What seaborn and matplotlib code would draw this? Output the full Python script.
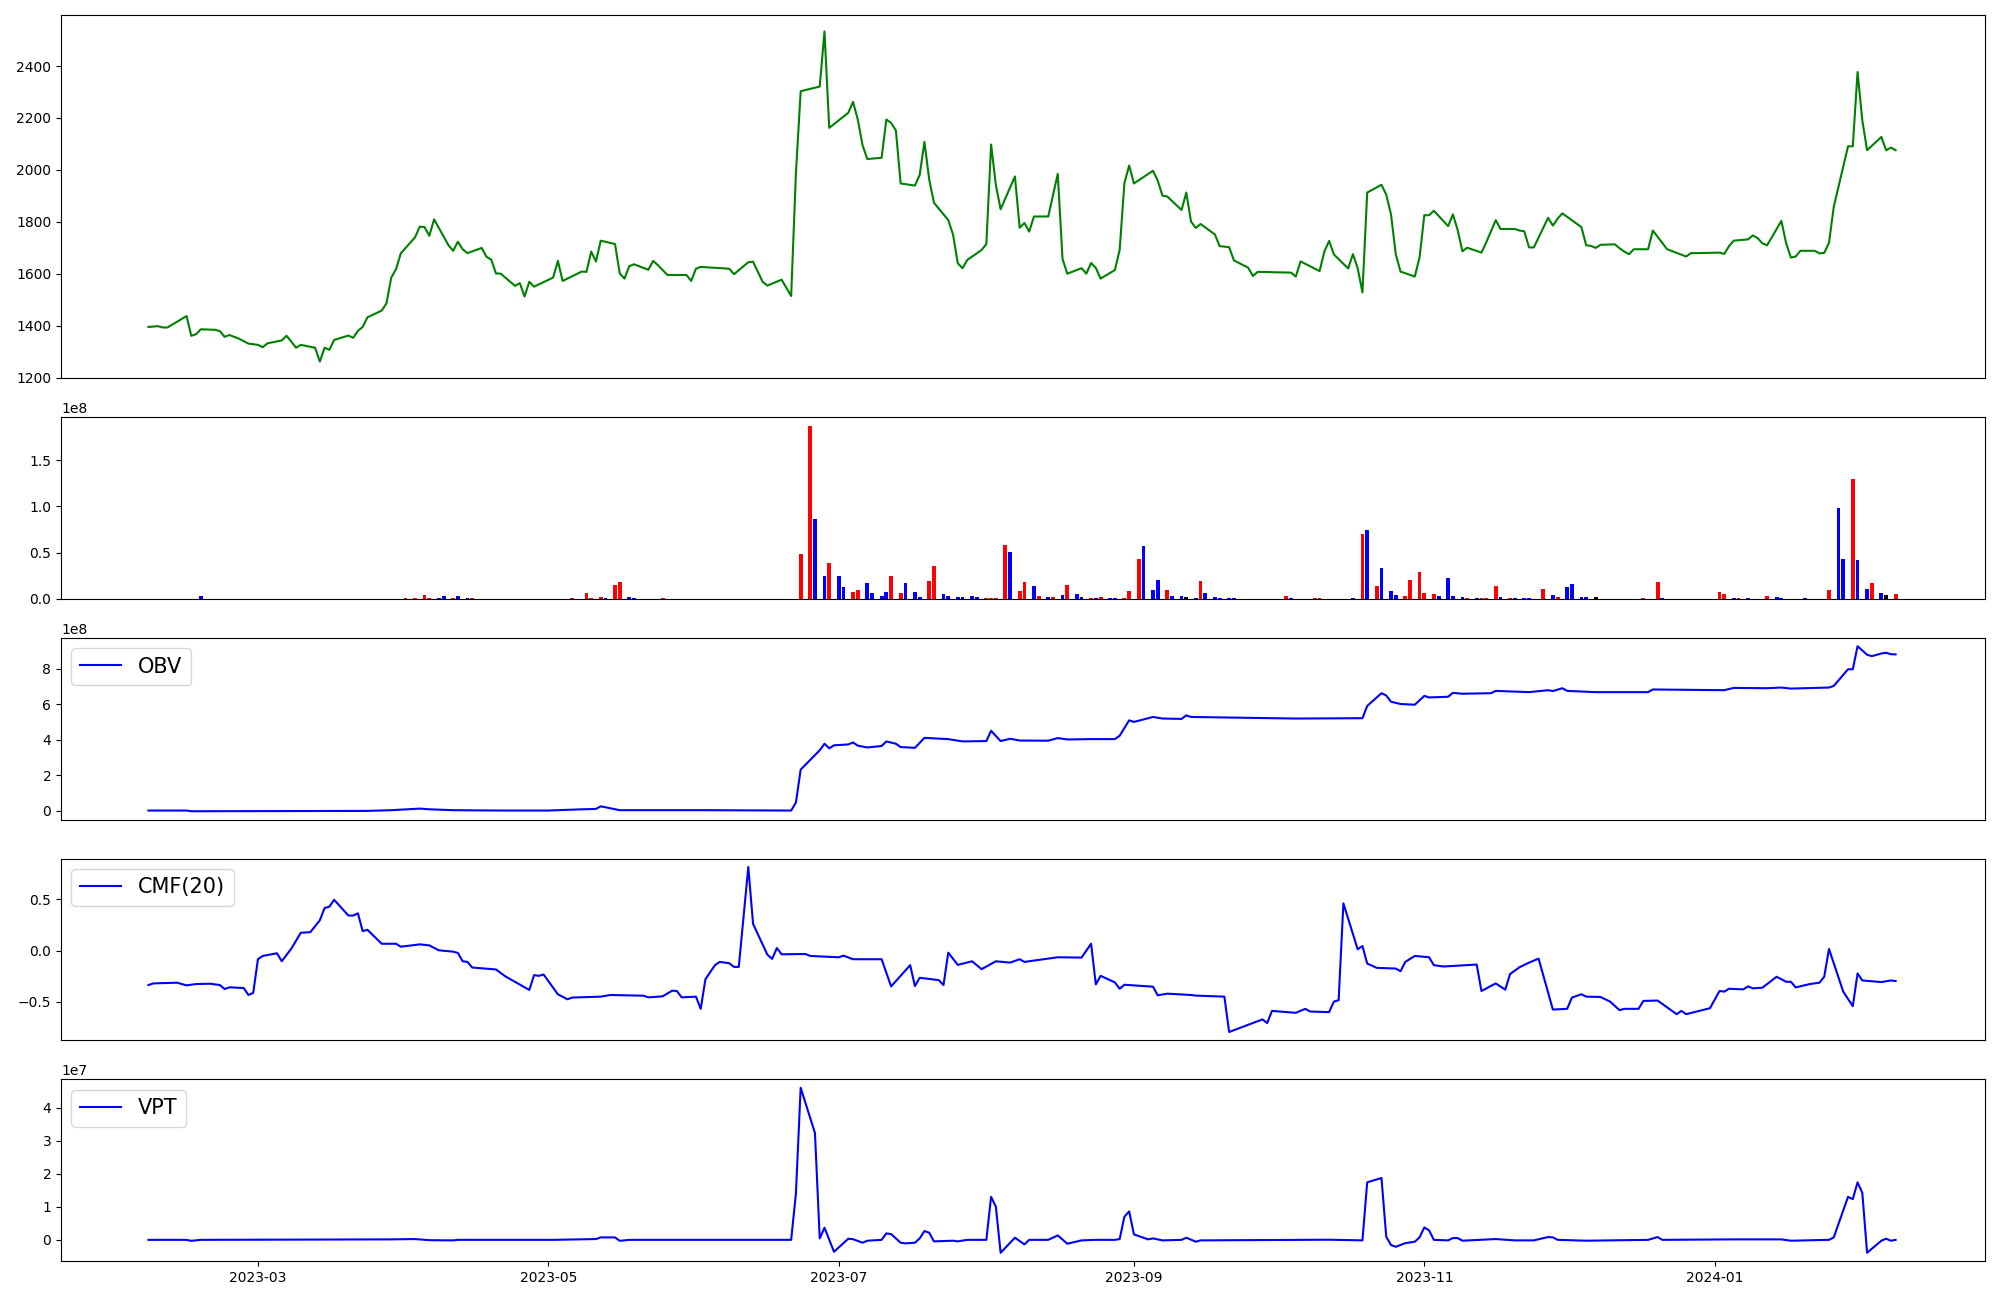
import pandas as pd
import matplotlib
matplotlib.use("Agg")
import matplotlib.pyplot as plt
import seaborn as sns

# -------------------------------
# Data (x values are days counted from 2023-03-01)
# -------------------------------
start = pd.Timestamp("2023-03-01")

price_day = [-23, -21, -20, -19, -15, -14, -13, -12, -9, -8, -7, -6, -4, -2, 0, 1, 2, 5, 6, 7, 8, 9,
             12, 13, 14, 15, 16, 19, 20, 21, 22, 23, 26, 27, 28, 29, 30, 33, 34, 35, 36, 37, 40, 41,
             42, 43, 44, 47, 48, 49, 50, 51, 54, 55, 56, 57, 58, 62, 63, 64, 68, 69, 70, 71, 72, 75,
             76, 77, 78, 79, 82, 83, 84, 86, 90, 91, 92, 93, 99, 100, 103, 104, 106, 107, 110, 112,
             113, 114, 118, 119, 120, 124, 125, 126, 127, 128, 131, 132, 133, 134, 135, 138, 139,
             140, 141, 142, 145, 146, 147, 148, 149, 152, 153, 154, 155, 156, 159, 160, 161, 162,
             163, 166, 168, 169, 170, 173, 174, 175, 176, 177, 180, 181, 182, 183, 184, 188, 189,
             190, 191, 194, 195, 196, 197, 198, 201, 202, 204, 205, 208, 209, 210, 217, 218, 219,
             223, 224, 225, 226, 229, 230, 231, 232, 233, 236, 237, 238, 239, 240, 243, 244, 245,
             246, 247, 250, 251, 252, 253, 254, 257, 258, 260, 261, 264, 265, 266, 267, 268, 271,
             272, 273, 274, 278, 279, 280, 281, 282, 285, 286, 287, 288, 289, 292, 293, 296, 300,
             301, 302, 307, 308, 309, 310, 313, 314, 315, 316, 317, 320, 321, 322, 323, 324, 327,
             328, 329, 330, 331, 334, 335, 336, 337, 338, 341, 342, 343, 344]
price_close = [1396, 1399, 1394, 1394, 1438, 1362, 1368, 1387, 1385, 1380, 1358, 1365, 1351, 1332,
               1327, 1318, 1333, 1344, 1362, 1340, 1316, 1327, 1316, 1263, 1316, 1308, 1346, 1363,
               1354, 1381, 1396, 1433, 1459, 1487, 1586, 1618, 1679, 1741, 1782, 1780, 1747, 1810,
               1711, 1689, 1724, 1695, 1680, 1700, 1666, 1655, 1602, 1601, 1554, 1565, 1513, 1570,
               1551, 1586, 1650, 1573, 1609, 1608, 1686, 1648, 1728, 1715, 1602, 1582, 1630, 1637,
               1616, 1650, 1634, 1596, 1596, 1573, 1620, 1627, 1620, 1599, 1645, 1647, 1570, 1555,
               1578, 1515, 1987, 2303, 2321, 2533, 2162, 2220, 2262, 2194, 2095, 2042, 2047, 2194,
               2181, 2152, 1948, 1940, 1981, 2108, 1963, 1874, 1807, 1752, 1641, 1622, 1654, 1692,
               1715, 2098, 1942, 1849, 1975, 1778, 1796, 1763, 1821, 1821, 1985, 1658, 1601, 1622,
               1601, 1642, 1623, 1582, 1615, 1692, 1949, 2017, 1948, 1997, 1959, 1901, 1898, 1846,
               1913, 1801, 1777, 1792, 1752, 1707, 1703, 1652, 1624, 1592, 1608, 1605, 1590, 1648,
               1611, 1686, 1727, 1675, 1621, 1676, 1622, 1529, 1913, 1943, 1905, 1829, 1676, 1609,
               1590, 1664, 1826, 1826, 1843, 1784, 1829, 1769, 1687, 1701, 1682, 1721, 1807, 1773,
               1773, 1767, 1764, 1702, 1702, 1816, 1786, 1813, 1833, 1780, 1710, 1708, 1700, 1712,
               1714, 1699, 1686, 1676, 1695, 1695, 1767, 1695, 1667, 1680, 1680, 1682, 1677, 1707,
               1728, 1733, 1748, 1738, 1718, 1710, 1804, 1718, 1663, 1667, 1689, 1689, 1679, 1681,
               1720, 1858, 2091, 2091, 2377, 2191, 2076, 2127, 2076, 2086, 2076]

vol_day = [-12, 31, 33, 35, 36, 38, 39, 41, 42, 44, 45, 66, 69, 70, 72, 73, 75, 76, 78, 79, 85,
           114, 116, 117, 119, 120, 122, 123, 125, 126, 128, 129, 131, 132, 133, 135, 136, 138,
           139, 141, 142, 144, 145, 147, 148, 150, 151, 153, 154, 155, 157, 158, 160, 161, 163,
           164, 166, 167, 169, 170, 172, 173, 175, 176, 177, 179, 180, 182, 183, 185, 186, 188,
           189, 191, 192, 194, 195, 197, 198, 199, 201, 202, 204, 205, 216, 217, 222, 223, 230,
           232, 233, 235, 236, 238, 239, 241, 242, 244, 245, 247, 248, 250, 251, 253, 254, 256,
           257, 258, 260, 261, 263, 264, 266, 267, 270, 272, 273, 275, 276, 278, 279, 281, 291,
           294, 295, 307, 308, 310, 311, 313, 317, 319, 320, 325, 330, 332, 333, 335, 336, 338,
           339, 341, 342, 344]
vol_value = [0.032, 0.011, 0.011, 0.043, 0.011, 0.011, 0.032, 0.011, 0.032, 0.011, 0.011, 0.011,
             0.065, 0.011, 0.022, 0.011, 0.151, 0.184, 0.022, 0.011, 0.011,
             0.486, 1.870, 0.865, 0.249, 0.389, 0.249, 0.130, 0.076, 0.097, 0.173, 0.065, 0.032,
             0.076, 0.249, 0.065, 0.173, 0.076, 0.022, 0.195, 0.357, 0.054, 0.032, 0.022, 0.022,
             0.032, 0.022, 0.011, 0.011, 0.011, 0.584, 0.508, 0.086, 0.184, 0.141, 0.032, 0.022,
             0.022, 0.043, 0.151, 0.054, 0.022, 0.011, 0.011, 0.022, 0.011, 0.011, 0.011, 0.086,
             0.432, 0.573, 0.097, 0.205, 0.097, 0.032, 0.032, 0.022, 0.011, 0.195, 0.065, 0.022,
             0.011, 0.011, 0.011, 0.032, 0.011, 0.011, 0.011, 0.011, 0.703, 0.746, 0.141, 0.335,
             0.086, 0.043, 0.032, 0.205, 0.292, 0.065, 0.054, 0.032, 0.227, 0.032, 0.022, 0.011,
             0.011, 0.011, 0.011, 0.141, 0.022, 0.011, 0.011, 0.011, 0.011, 0.108, 0.043, 0.022,
             0.130, 0.162, 0.022, 0.022, 0.022, 0.011, 0.184, 0.011, 0.076, 0.054, 0.011, 0.011,
             0.011, 0.032, 0.022, 0.011, 0.011, 0.097, 0.984, 0.432, 1.297, 0.422, 0.108, 0.173,
             0.065, 0.043, 0.054]
# u = close up, d = close down, f = unchanged (one letter per bar, in vol_day order)
vol_dir = list("d" "uuuudduddu" "uuuuduuddu"
               "uuddudduud" "ddduuddduu" "dddddduuuu" "duudududud"
               "dududduuud" "dduddfdudd" "ddduduudud" "uddd"
               "uuuuuddddu" "duuududddu" "duddddfuud" "uudududddu" "dduddudfu")

obv_day = [-23, -15, -14, 23, 28, 34, 36, 41, 51, 61, 68, 71, 72, 74, 76, 94, 112, 113, 114, 118,
           119, 120, 121, 124, 125, 126, 128, 131, 132, 134, 135, 138, 140, 145, 148, 153, 154,
           156, 158, 160, 166, 168, 170, 175, 180, 181, 183, 184, 188, 190, 194, 195, 196, 218,
           232, 233, 236, 237, 238, 240, 243, 245, 246, 250, 251, 253, 259, 260, 267, 271, 272,
           274, 275, 281, 292, 293, 308, 310, 317, 320, 322, 330, 331, 334, 335, 336, 338, 339,
           341, 342, 343, 344]
obv_value = [0, 0, -0.04, -0.02, 0.02, 0.11, 0.07, 0.02, 0, 0, 0.07, 0.09, 0.24, 0.13, 0.02, 0.02,
             0, 0.45, 2.31, 3.40, 3.77, 3.51, 3.68, 3.73, 3.84, 3.66, 3.56, 3.64, 3.90, 3.77, 3.58,
             3.54, 4.10, 4.03, 3.90, 3.92, 4.50, 3.92, 4.05, 3.95, 3.94, 4.09, 4.01, 4.03, 4.03,
             4.22, 5.09, 5.00, 5.28, 5.19, 5.17, 5.37, 5.28, 5.19, 5.21, 5.90, 6.62, 6.49, 6.14,
             6.01, 5.97, 6.47, 6.38, 6.42, 6.64, 6.59, 6.62, 6.75, 6.68, 6.79, 6.74, 6.90, 6.75,
             6.68, 6.68, 6.83, 6.79, 6.92, 6.90, 6.94, 6.88, 6.94, 7.03, 7.97, 7.97, 9.27, 8.79,
             8.71, 8.86, 8.90, 8.82, 8.81]

cmf_day = [-23, -22, -17, -15, -13, -10, -8, -7, -6, -3, -2, -1, 0, 1, 4, 5, 7, 9, 11, 13, 14, 15,
           16, 19, 20, 21, 22, 23, 26, 29, 30, 34, 36, 38, 41, 42, 43, 44, 45, 50, 52, 57, 58, 59,
           60, 63, 65, 66, 72, 74, 81, 82, 85, 87, 88, 89, 92, 93, 94, 96, 97, 99, 100, 101, 103,
           104, 107, 108, 109, 110, 115, 116, 122, 123, 125, 131, 133, 137, 138, 139, 143, 144,
           145, 147, 150, 152, 155, 158, 160, 161, 168, 173, 175, 176, 177, 180, 181, 182, 188,
           189, 191, 196, 197, 203, 204, 211, 212, 213, 218, 220, 221, 225, 226, 227, 228, 231,
           232, 233, 235, 239, 240, 241, 243, 246, 247, 249, 256, 257, 260, 262, 263, 265, 267,
           269, 272, 275, 276, 278, 279, 282, 284, 286, 287, 290, 291, 294, 298, 299, 300, 305,
           307, 308, 309, 312, 313, 314, 316, 319, 321, 322, 323, 326, 328, 329, 330, 333, 335,
           336, 337, 341, 343, 344]
cmf_value = [-0.337, -0.321, -0.314, -0.340, -0.327, -0.324, -0.337, -0.376, -0.359, -0.366,
             -0.434, -0.414, -0.085, -0.053, -0.027, -0.105, 0.018, 0.173, 0.179, 0.295, 0.415,
             0.427, 0.495, 0.341, 0.341, 0.363, 0.189, 0.202, 0.066, 0.066, 0.037, 0.060, 0.050,
             0.002, -0.011, -0.024, -0.105, -0.111, -0.166, -0.185, -0.253, -0.385, -0.240,
             -0.247, -0.234, -0.427, -0.476, -0.459, -0.450, -0.434, -0.441, -0.457, -0.447,
             -0.392, -0.395, -0.457, -0.450, -0.569, -0.279, -0.143, -0.111, -0.124, -0.160,
             -0.160, 0.815, 0.260, -0.040, -0.082, 0.024, -0.037, -0.034, -0.053, -0.066, -0.050,
             -0.085, -0.085, -0.350, -0.143, -0.347, -0.266, -0.289, -0.337, -0.021, -0.140,
             -0.105, -0.182, -0.105, -0.118, -0.085, -0.111, -0.066, -0.069, 0.066, -0.331,
             -0.247, -0.311, -0.373, -0.334, -0.353, -0.437, -0.421, -0.434, -0.440, -0.450,
             -0.795, -0.672, -0.708, -0.589, -0.608, -0.569, -0.595, -0.601, -0.498, -0.485,
             0.460, 0.012, 0.044, -0.127, -0.169, -0.176, -0.202, -0.111, -0.053, -0.066, -0.143,
             -0.156, -0.137, -0.395, -0.321, -0.382, -0.230, -0.163, -0.118, -0.079, -0.576,
             -0.569, -0.459, -0.427, -0.450, -0.453, -0.498, -0.582, -0.569, -0.569, -0.492,
             -0.488, -0.621, -0.589, -0.621, -0.563, -0.395, -0.401, -0.373, -0.379, -0.350,
             -0.369, -0.363, -0.256, -0.305, -0.305, -0.360, -0.327, -0.314, -0.256, 0.015,
             -0.402, -0.543, -0.224, -0.292, -0.308, -0.292, -0.298]

vpt_day = [-23, -15, -14, -12, 28, 33, 36, 41, 42, 62, 71, 72, 75, 76, 78, 112, 113, 114, 117,
           118, 119, 121, 124, 125, 127, 128, 131, 132, 133, 135, 136, 138, 139, 140, 141, 142,
           146, 147, 149, 153, 154, 155, 156, 159, 161, 162, 166, 168, 170, 173, 176, 180, 181,
           182, 183, 184, 187, 188, 190, 194, 195, 197, 198, 225, 232, 233, 236, 237, 238, 239,
           241, 243, 244, 245, 246, 247, 250, 251, 252, 253, 260, 264, 268, 271, 272, 273, 279,
           292, 294, 295, 310, 320, 322, 330, 331, 334, 335, 336, 337, 338, 341, 342, 343, 344]
vpt_value = [0, 0, -0.03, 0, 0.014, 0.024, -0.01, -0.016, 0, 0, 0.024, 0.074, 0.074, -0.03, 0, 0,
             1.40, 4.60, 3.23, 0.044, 0.366, -0.36, 0.034, 0.02, -0.087, -0.026, 0, 0.195, 0.175,
             -0.087, -0.107, -0.087, 0.044, 0.266, 0.215, -0.046, -0.026, -0.046, 0, 0, 1.30, 1.0,
             -0.39, 0.065, -0.137, 0, 0, 0.135, -0.117, -0.016, 0, 0, 0.024, 0.70, 0.86, 0.165,
             0.014, 0.044, -0.016, 0, 0.065, -0.056, -0.016, 0.004, -0.016, 1.74, 1.87, 0.095,
             -0.157, -0.21, -0.10, -0.056, 0.075, 0.376, 0.286, 0, -0.016, 0.054, 0.054, -0.026,
             0.024, -0.016, -0.016, 0.085, 0.075, 0, -0.026, 0, 0.085, 0, 0.014, 0.014, -0.026, 0,
             0.075, 1.30, 1.23, 1.74, 1.42, -0.39, -0.026, 0.034, -0.026, 0]


def to_dates(days):
    return start + pd.to_timedelta(days, unit="D")


# -------------------------------
# Figure
# -------------------------------
fig, axes = plt.subplots(5, 1, figsize=(20, 13), dpi=100, sharex=True,
                         gridspec_kw={"height_ratios": [2, 1, 1, 1, 1]})
fig.subplots_adjust(left=0.0305, right=0.9925, top=0.9885, bottom=0.03, hspace=0.18)
ax_price, ax_vol, ax_obv, ax_cmf, ax_vpt = axes

# price
sns.lineplot(x=to_dates(price_day), y=price_close, ax=ax_price, color="green",
             linewidth=1.5, legend=False)

# volume bars coloured by direction
dir_colors = {"u": "red", "d": "blue", "f": "black"}
vol_colors = [dir_colors[d] for d in vol_dir]
ax_vol.bar(to_dates(vol_day), [v * 1e8 for v in vol_value], width=0.8, color=vol_colors)

# indicators
sns.lineplot(x=to_dates(obv_day), y=[v * 1e8 for v in obv_value], ax=ax_obv,
             color="blue", linewidth=1.5, label="OBV")
sns.lineplot(x=to_dates(cmf_day), y=cmf_value, ax=ax_cmf,
             color="blue", linewidth=1.5, label="CMF(20)")
sns.lineplot(x=to_dates(vpt_day), y=[v * 1e7 for v in vpt_value], ax=ax_vpt,
             color="blue", linewidth=1.5, label="VPT")

for ax in (ax_obv, ax_cmf, ax_vpt):
    ax.legend(loc="upper left", fontsize=15)

for ax in axes:
    ax.set_xlabel("")
    ax.set_ylabel("")
for ax in axes[:-1]:
    ax.tick_params(axis="x", bottom=False, labelbottom=False)

fig.savefig("out.png", dpi=100)
